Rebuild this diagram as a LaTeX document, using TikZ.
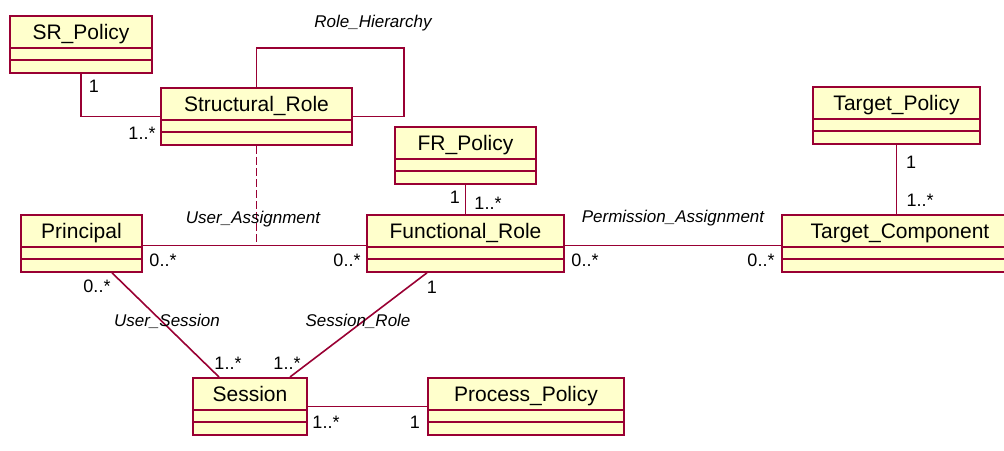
\documentclass[tikz,border=0pt]{standalone}
\usepackage{fontspec}
\setmainfont{Liberation Sans}
\usetikzlibrary{calc}

\definecolor{umlred}{RGB}{153,0,51}
\definecolor{umlfill}{RGB}{255,255,204}

\tikzset{
  umlclass/.style={draw=umlred, fill=umlfill, line width=1.8pt, anchor=north,
    inner xsep=0pt, inner ysep=0pt, minimum height=57pt,
    text height=24pt, text depth=33pt, font=\fontsize{21}{24}\selectfont,
    path picture={
      \draw[umlred, line width=1.4pt]
        ([yshift=-32pt]path picture bounding box.north west) -- ([yshift=-32pt]path picture bounding box.north east)
        ([yshift=-44pt]path picture bounding box.north west) -- ([yshift=-44pt]path picture bounding box.north east);
    }},
  assocline/.style={umlred, line width=1.6pt},
  mult/.style={font=\fontsize{18}{20}\selectfont, inner sep=0pt},
  assocname/.style={font=\fontsize{17}{20}\selectfont\itshape, inner sep=0pt}
}

\begin{document}
\begin{tikzpicture}[x=1pt, y=-1pt]
\clip (0,0) rectangle (1004,450);

\node[umlclass, minimum width=142pt] (srpol) at (81,15) {SR\_Policy};
\node[umlclass, minimum width=191pt] (strole) at (256.5,87) {Structural\_Role};
\node[umlclass, minimum width=141pt] (frpol) at (465.5,126) {FR\_Policy};
\node[umlclass, minimum width=167pt] (tgtpol) at (896.5,86) {Target\_Policy};
\node[umlclass, minimum width=121pt] (princ) at (81.5,214) {Principal};
\node[umlclass, minimum width=197pt] (funrole) at (465.5,214) {Functional\_Role};
\node[umlclass, minimum width=236pt] (tgtcomp) at (900,214) {Target\_Component};
\node[umlclass, minimum width=114pt] (sess) at (250,377) {Session};
\node[umlclass, minimum width=196pt] (procpol) at (526,377) {Process\_Policy};

\coordinate (hier) at (404,48);
\draw[assocline] (srpol.south) |- (strole.west);
\draw[assocline] (strole.north) |- (hier) |- (strole.east);
\draw[assocline] (frpol.south) -- (funrole.north);
\draw[assocline] (tgtpol.south) -- (tgtpol.south |- tgtcomp.north);
\draw[assocline] ([yshift=-2pt]princ.east) -- coordinate (ua) ([yshift=-2pt]funrole.west);
\draw[assocline, dash pattern=on 8pt off 3pt] (strole.south) -- (strole.south |- ua);
\draw[assocline] ([yshift=-2pt]funrole.east) -- ([yshift=-2pt]tgtcomp.west);
\draw[assocline] ([xshift=30.5pt]princ.south) -- ([xshift=-31pt]sess.north);
\draw[assocline] ([xshift=-38.5pt]funrole.south) -- ([xshift=40pt]sess.north);
\draw[assocline] (sess.east) -- (procpol.west);

\node[assocname] (rhname) at (373,23) {Role\_Hierarchy};
\node[assocname] (uaname) at (253,219) {User\_Assignment};
\node[assocname] (paname) at (673,218) {Permission\_Assignment};
\node[assocname] (usname) at (167,321) {User\_Session};
\node[assocname] (srname) at (358,321) {Session\_Role};

\node[mult] (m1) at (94,86) {1};
\node[mult] (m2) at (142,133) {1..*};
\node[mult] (m3) at (455,197) {1};
\node[mult] (m4) at (488,203) {1..*};
\node[mult] (m5) at (911,162) {1};
\node[mult] (m6) at (920,200) {1..*};
\node[mult] (m7) at (163,260) {0..*};
\node[mult] (m8) at (347,260) {0..*};
\node[mult] (m9) at (585,260) {0..*};
\node[mult] (m10) at (761,260) {0..*};
\node[mult] (m11) at (97,286) {0..*};
\node[mult] (m12) at (228,363) {1..*};
\node[mult] (m13) at (432,287) {1};
\node[mult] (m14) at (287,363) {1..*};
\node[mult] (m15) at (326,422) {1..*};
\node[mult] (m16) at (415,422) {1};
\end{tikzpicture}
\end{document}
